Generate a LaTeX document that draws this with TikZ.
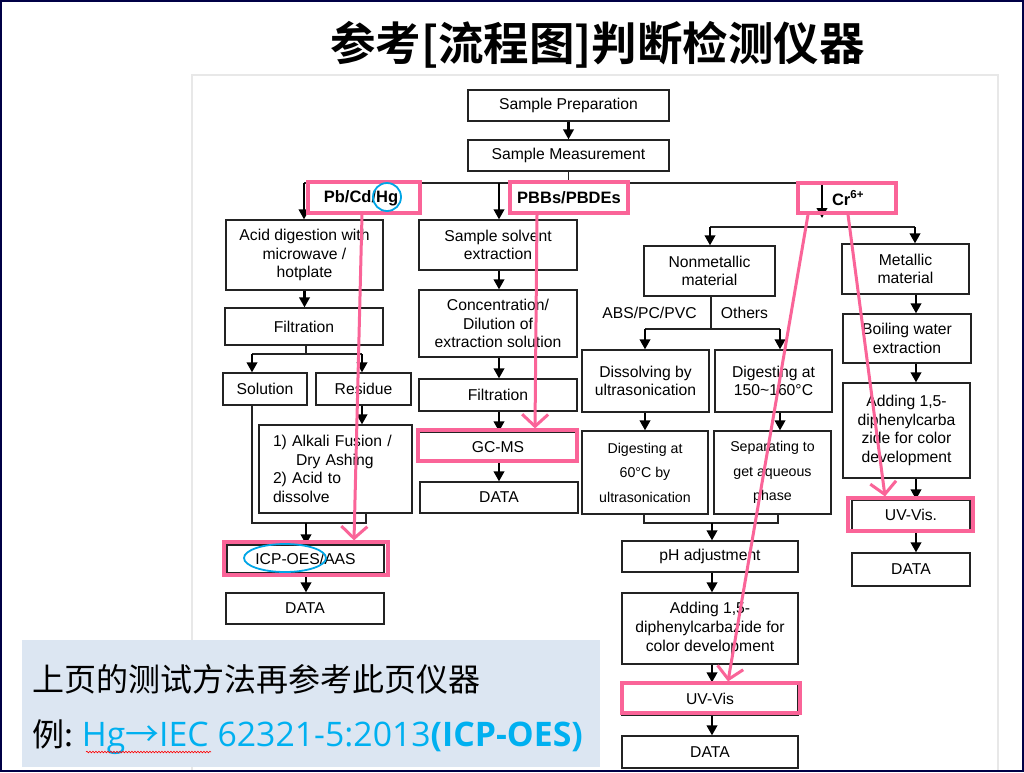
\documentclass[tikz,border=0pt]{standalone}
\usepackage{fontspec}
\setmainfont{Liberation Sans}
\newfontfamily\cjk{Noto Sans CJK SC}[BoldFont={Noto Sans CJK SC Bold}]
\newfontfamily\osans{Open Sans}
\usetikzlibrary{arrows.meta,decorations.pathmorphing}
\definecolor{pinkc}{RGB}{250,100,152}
\definecolor{bluec}{RGB}{0,165,230}
\definecolor{bluet}{RGB}{0,176,240}
\definecolor{boxc}{RGB}{35,35,35}
\definecolor{framec}{RGB}{232,232,232}
\definecolor{navyc}{RGB}{0,0,70}
\definecolor{notec}{RGB}{220,230,242}
\newcommand\fsz{\fontsize{15.7}{18.7}\selectfont}
\newcommand\fsm{\fontsize{14.2}{24.5}\selectfont}
\newcommand\lbl{\fontsize{16.5}{19}\selectfont\bfseries}
\tikzset{
  box/.style={draw=boxc, line width=1.3pt, inner sep=0pt, align=center, font=\fsz},
  arr/.style={-{Triangle[width=10.5pt,length=10pt]}, line width=2.2pt, black},
  ln/.style={line width=1.3pt, boxc},
  pinkbox/.style={draw=pinkc, line width=3.2pt, inner sep=0pt},
  pinkarr/.style={pinkc, line width=3pt, -{Straight Barb[length=12pt,width=26pt]}},
  ring/.style={draw=bluec, line width=1.8pt},
}
\newcommand\bx[6]{\node[box, minimum width=#4pt, minimum height=#5pt] (#1) at (#2,#3) {#6};}
\begin{document}
\begin{tikzpicture}[x=1pt,y=-1pt]
\useasboundingbox (0,0) rectangle (1024,772);
\fill[white] (0,0) rectangle (1024,772);
% embedded picture frame
\draw[framec, line width=2pt] (192,772) -- (192,75) -- (998,75) -- (998,772);
% title
\node[font=\cjk\bfseries\fontsize{45.5}{50}\selectfont] (title) at (597.5,45) {参考[流程图]判断检测仪器};
% boxes
\bx{sprep}{568.5}{105.5}{201}{31}{Sample Preparation}
\bx{smeas}{568.5}{155.5}{201}{31}{Sample Measurement}
\bx{acid}{304.5}{255}{157}{70}{Acid digestion with\\microwave /\\hotplate}
\bx{filta}{304}{326.5}{158}{37}{Filtration}
\bx{sol}{265}{389}{84}{32}{Solution}
\bx{res}{363.5}{389}{95}{32}{Residue}
\node[box, minimum width=153pt, minimum height=88pt, align=left, text width=125pt, inner xsep=14pt] (alk) at (335.5,469) {1) Alkali Fusion /\\\hspace*{23pt}Dry Ashing\\2) Acid to\\dissolve};
\bx{icp}{305.5}{559}{157}{28}{ICP-OES/AAS}
\bx{dataa}{305}{608.5}{158}{31}{DATA}
\bx{sse}{498}{245}{158}{50}{Sample solvent\\extraction}
\bx{conc}{498}{323.5}{158}{67}{Concentration/\\Dilution of\\extraction solution}
\bx{filtb}{498}{395}{158}{32}{Filtration}
\bx{gcms}{498}{447}{158}{30}{GC-MS}
\bx{datab}{499}{497.5}{158}{31}{DATA}
\bx{nonmet}{709.5}{271}{131}{50}{Nonmetallic\\material}
\bx{diss}{645.5}{381}{127}{62}{Dissolving by\\ultrasonication}
\bx{digh}{773.5}{381}{117}{62}{Digesting at\\150\textasciitilde160°C}
\node[box, font=\fsm, minimum width=126pt, minimum height=83pt] (dig60) at (645,472.5) {Digesting at\\60°C by\\ultrasonication};
\node[box, font=\fsm, minimum width=117pt, minimum height=83pt] (sep) at (772.5,472.5) {Separating to\\get aqueous\\phase};
\bx{ph}{710}{556.5}{176}{31}{pH adjustment}
\bx{adda}{710}{628.5}{176}{71}{Adding 1,5-\\diphenylcarbazide for\\color development}
\bx{uva}{710}{699}{176}{32}{UV-Vis}
\bx{datac}{710}{752}{176}{32}{DATA}
\bx{met}{905.5}{269}{127}{50}{Metallic\\material}
\bx{boil}{907}{338.5}{128}{49}{Boiling water\\extraction}
\bx{addb}{906.5}{430.5}{127}{95}{Adding 1,5-\\diphenylcarba\\zide for color\\development}
\bx{uvb}{911}{515}{118}{30}{UV-Vis.}
\bx{datad}{911}{569.5}{118}{33}{DATA}
% labels
\node[font=\lbl] (lpb) at (361,198) {Pb/Cd/Hg};
\node[font=\lbl] (lpbb) at (569,198) {PBBs/PBDEs};
\node[font=\lbl] (lcr) at (848,198) {Cr\textsuperscript{6+}};
\node[font=\fsz] (abs) at (649.5,313) {ABS/PC/PVC};
\node[font=\fsz] (oth) at (744.5,313) {Others};
% connectors
\draw[arr] (sprep) -- (smeas);
\coordinate (ja) at (568.5,183);
\coordinate (jl) at (304,183);
\coordinate (jm) at (499,183);
\coordinate (jr) at (822,183);
\coordinate (jcr) at (822,218);
\draw[ln] (smeas.south) -- (ja);
\draw[ln] (jl) -- (jr);
\draw[arr] (jl) -- (jl |- acid.north);
\draw[arr] (jm) -- (jm |- sse.north);
\draw[arr] (jr) -- (jcr);
\coordinate (kl) at (710,227);
\coordinate (kr) at (915,227);
\draw[ln] (kl) -- (kr);
\draw[arr] (kl) -- (kl |- nonmet.north);
\draw[arr] (kr) -- (kr |- met.north);
% left column
\draw[arr] (acid.south) -- (acid.south |- filta.north);
\coordinate (fs) at (306,354);
\coordinate (fsl) at (252,354);
\coordinate (fsr) at (362,354);
\draw[ln] (filta.south -| fs) -- (fs);
\draw[ln] (fsl) -- (fsr);
\draw[arr] (fsl) -- (fsl |- sol.north);
\draw[arr] (fsr) -- (fsr |- res.north);
\draw[arr] (res.south -| fsr) -- (fsr |- alk.north);
\coordinate (bl) at (252,523);
\coordinate (br) at (366,523);
\coordinate (bm) at (306,523);
\draw[ln] (sol.south -| bl) -- (bl) -- (br) -- (br |- alk.south);
\draw[arr] (bm) -- (bm |- icp.north);
\draw[arr] (icp.south -| bm) -- (bm |- dataa.north);
% middle column
\draw[arr] (sse.south -| jm) -- (jm |- conc.north);
\draw[arr] (conc.south -| jm) -- (jm |- filtb.north);
\draw[arr] (filtb.south -| jm) -- (jm |- gcms.north);
\draw[arr] (gcms.south -| jm) -- (jm |- datab.north);
% nonmetallic
\coordinate (nj) at (711,329);
\coordinate (njl) at (645,329);
\coordinate (njr) at (780,329);
\draw[ln] (nonmet.south -| nj) -- (nj);
\draw[ln] (njl) -- (njr);
\draw[arr] (njl) -- (njl |- diss.north);
\draw[arr] (njr) -- (njr |- digh.north);
\draw[arr] (diss.south -| njl) -- (njl |- dig60.north);
\draw[arr] (digh.south -| njr) -- (njr |- sep.north);
\coordinate (ql) at (644,523);
\coordinate (qr) at (778,523);
\coordinate (qm) at (712,523);
\draw[ln] (dig60.south -| ql) -- (ql) -- (qr) -- (qr |- sep.south);
\draw[arr] (qm) -- (qm |- ph.north);
\draw[arr] (ph.south -| qm) -- (qm |- adda.north);
\draw[arr] (adda.south -| qm) -- (qm |- uva.north);
\draw[arr] (uva.south -| qm) -- (qm |- datac.north);
% metallic
\coordinate (mx) at (916,0);
\draw[arr] (met.south -| mx) -- (mx |- boil.north);
\draw[arr] (boil.south -| mx) -- (mx |- addb.north);
\draw[arr] (addb.south -| mx) -- (mx |- uvb.north);
\draw[arr] (uvb.south -| mx) -- (mx |- datad.north);
% pink highlight boxes
\node[pinkbox, minimum width=112pt, minimum height=31pt] (pk1) at (364,197.5) {};
\node[pinkbox, minimum width=118pt, minimum height=31pt] (pk2) at (569,197.5) {};
\node[pinkbox, minimum width=98pt, minimum height=30pt] (pk3) at (847,198) {};
\node[pinkbox, minimum width=164pt, minimum height=33pt] (pkicp) at (306,558.5) {};
\node[pinkbox, minimum width=159pt, minimum height=31pt] (pkgc) at (497.5,445.5) {};
\node[pinkbox, minimum width=178pt, minimum height=30pt] (pkuva) at (711,698) {};
\node[pinkbox, minimum width=125pt, minimum height=33pt] (pkuvb) at (910.5,514.5) {};
% pink arrows
\draw[pinkarr] ([xshift=-2pt]pk1.south) -- ([xshift=48pt]pkicp.north);
\draw[pinkarr] ([xshift=-32pt]pk2.south) -- ([xshift=37.5pt]pkgc.north);
\draw[pinkarr] ([xshift=-39pt]pk3.south) -- ([xshift=17pt]pkuva.north);
\draw[pinkarr] ([xshift=1pt]pk3.south) -- ([xshift=-25.5pt]pkuvb.north);
% blue rings
\draw[ring] (387,197) circle[radius=14pt];
\draw[ring] (285,558) ellipse[x radius=41pt, y radius=14pt];
% note box
\node[fill=notec, minimum width=578pt, minimum height=127pt, inner sep=0pt] (note) at (311,703.5) {};
\node[anchor=west, font=\cjk\fontsize{32}{34}\selectfont, inner sep=0pt] (l1) at (32,679) {上页的测试方法再参考此页仪器};
\node[anchor=west, font=\fontsize{32}{34}\selectfont, inner sep=0pt] (l2) at (32,737) {{\cjk 例:}\ {\color{bluet}\fontsize{33.8}{36}\selectfont\osans Hg{\cjk →}IEC 62321-5:2013\textbf{(ICP-OES)}}};
\draw[red, line width=0.6pt, decorate, decoration={snake, amplitude=0.8pt, segment length=3pt}] (86,752) -- (211,752);
% slide border
\draw[navyc, line width=2pt] (1,1) rectangle (1023,771);
\end{tikzpicture}
\end{document}
